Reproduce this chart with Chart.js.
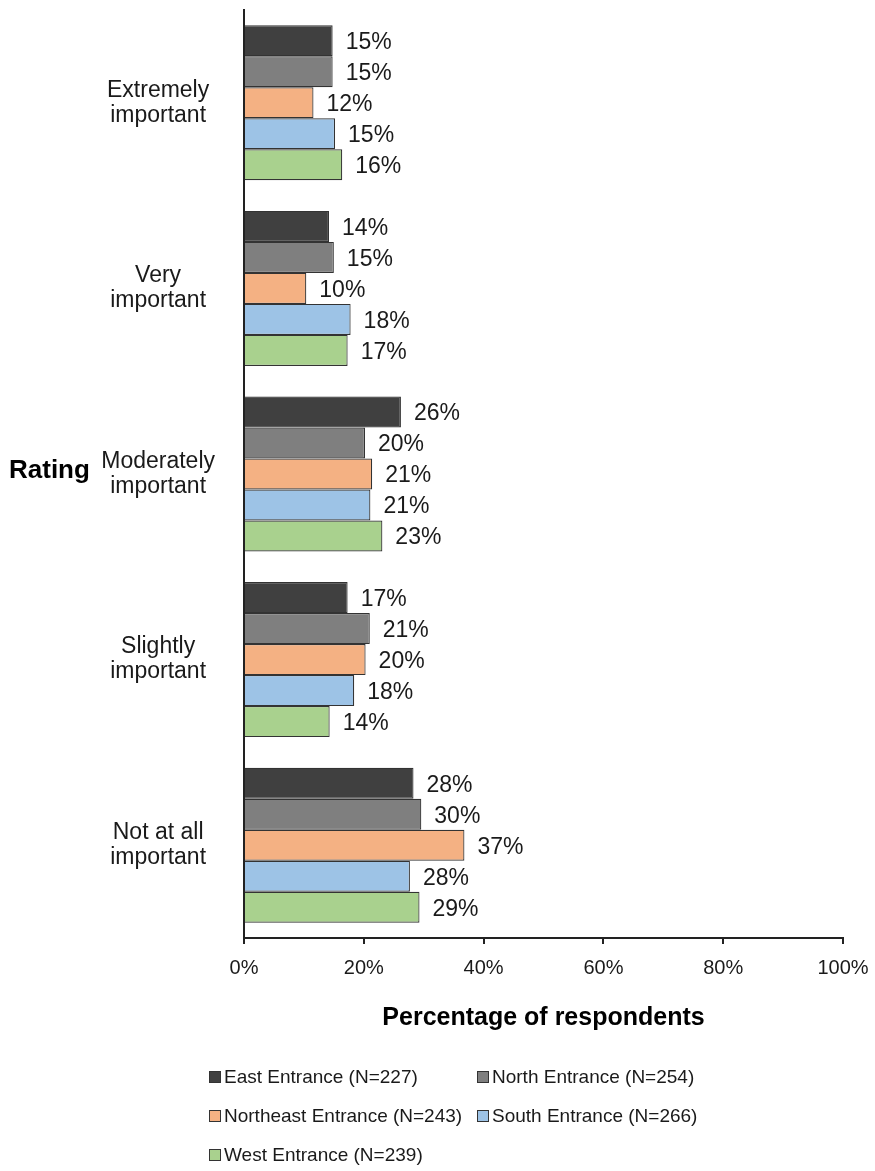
<!DOCTYPE html>
<html>
<head>
<meta charset="utf-8">
<script src="https://cdn.jsdelivr.net/npm/chart.js@4"></script>
<style>
html, body { margin: 0; padding: 0; background: #fff; }
#wrap { width: 875px; height: 1171px; }
</style>
</head>
<body>
<div id="wrap"><canvas id="ratingChart" width="875" height="1171"></canvas></div>
<script>
// -----------------------------
// Data
// -----------------------------
const ratings = [
  ["Extremely", "important"],
  ["Very", "important"],
  ["Moderately", "important"],
  ["Slightly", "important"],
  ["Not at all", "important"]
];

const seriesNames = [
  "East Entrance (N=227)",
  "North Entrance (N=254)",
  "Northeast Entrance (N=243)",
  "South Entrance (N=266)",
  "West Entrance (N=239)"
];

const eastValues = [14.8, 14.2, 26.2, 17.3, 28.3];
const northValues = [14.8, 15.0, 20.2, 21.0, 29.6];
const northeastValues = [11.6, 10.4, 21.4, 20.3, 36.8];
const southValues = [15.2, 17.8, 21.1, 18.4, 27.7];
const westValues = [16.4, 17.3, 23.1, 14.3, 29.3];

const xTicks = [0, 20, 40, 60, 80, 100];

const seriesColors = ["#404040", "#7f7f7f", "#f4b183", "#9dc3e6", "#a9d18e"];
const allValues = [eastValues, northValues, northeastValues, southValues, westValues];

Chart.defaults.font.family = "'Liberation Sans', Arial, sans-serif";
Chart.defaults.color = "#1a1a1a";

// value labels at the end of each bar
const valueLabels = {
  id: "valueLabels",
  afterDatasetsDraw(chart) {
    const ctx = chart.ctx;
    ctx.save();
    ctx.font = "23px 'Liberation Sans', Arial, sans-serif";
    ctx.fillStyle = "#1a1a1a";
    ctx.textAlign = "left";
    ctx.textBaseline = "middle";
    chart.data.datasets.forEach((ds, i) => {
      chart.getDatasetMeta(i).data.forEach((bar, j) => {
        ctx.fillText(Math.round(ds.data[j]) + "%", bar.x + 13, bar.y + 2);
      });
    });
    ctx.restore();
  }
};

// "Rating" title + legend grid
const extras = {
  id: "extras",
  afterDraw(chart) {
    const ctx = chart.ctx;
    const area = chart.chartArea;
    ctx.save();
    ctx.fillStyle = "#000";
    ctx.font = "bold 26px 'Liberation Sans', Arial, sans-serif";
    ctx.textAlign = "left";
    ctx.textBaseline = "middle";
    ctx.fillText("Rating", 9, (area.top + area.bottom) / 2 - 3);

    ctx.font = "19px 'Liberation Sans', Arial, sans-serif";
    const colX = [209, 477];
    const rowY = [1077, 1116, 1155];
    chart.data.datasets.forEach((ds, i) => {
      const x = colX[i % 2];
      const y = rowY[Math.floor(i / 2)];
      ctx.fillStyle = ds.backgroundColor;
      ctx.fillRect(x, y - 6, 12, 12);
      ctx.strokeStyle = "#333";
      ctx.lineWidth = 1;
      ctx.strokeRect(x + 0.5, y - 5.5, 11, 11);
      ctx.fillStyle = "#1a1a1a";
      ctx.fillText(ds.label, x + 15, y + 1);
    });
    ctx.restore();
  }
};

new Chart(document.getElementById("ratingChart"), {

type: "bar",

data: {
labels: ratings,
datasets: seriesNames.map((name, i) => ({
label: name,
data: allValues[i],
backgroundColor: seriesColors[i],
borderColor: "#333",
borderWidth: 1.2,
categoryPercentage: 0.835,
barPercentage: 1
}))
},

options: {
indexAxis: "y",
responsive: false,
animation: false,
layout: {
padding: { top: 10, right: 32, bottom: 138, left: 0 }
},
plugins: {
legend: { display: false },
tooltip: { enabled: false }
},
scales: {
x: {
min: 0,
max: 100,
afterBuildTicks: axis => { axis.ticks = xTicks.map(v => ({ value: v })); },
afterFit: axis => { axis.paddingLeft = 0; axis.paddingRight = 0; },
ticks: {
padding: 12,
font: { size: 20 },
color: "#1a1a1a",
callback: v => v + "%"
},
grid: {
drawOnChartArea: false,
drawTicks: true,
tickLength: 6,
color: "#222",
lineWidth: 2
},
border: { display: true, color: "#222", width: 2 },
title: {
display: true,
text: "Percentage of respondents",
color: "#000",
font: { size: 25, weight: "bold" },
padding: { top: 11, bottom: 0 }
}
},
y: {
afterFit: axis => { axis.width = 244; axis.paddingTop = 0; axis.paddingBottom = 0; },
ticks: {
padding: 21,
crossAlign: "center",
font: { size: 23, lineHeight: 1.09 },
color: "#1a1a1a"
},
grid: { display: false },
border: { display: true, color: "#222", width: 2 }
}
}
},

plugins: [valueLabels, extras]

});
</script>
</body>
</html>
